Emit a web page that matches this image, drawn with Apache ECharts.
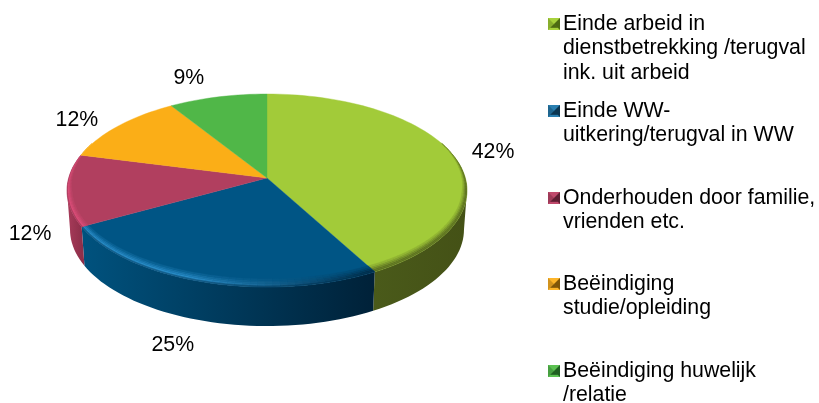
<!DOCTYPE html>
<html>
<head>
<meta charset="utf-8">
<style>html,body{margin:0;padding:0;background:#fff}#c{width:819px;height:403px}</style>
<script src="https://cdn.jsdelivr.net/npm/echarts@6/dist/echarts.min.js"></script>
</head>
<body>
<div id="c"></div>
<script>
// ---- data ----
const categories = [
  'Einde arbeid in\ndienstbetrekking /terugval\nink. uit arbeid',
  'Einde WW-\nuitkering/terugval in WW',
  'Onderhouden door familie,\nvrienden etc.',
  'Beëindiging\nstudie/opleiding',
  'Beëindiging huwelijk\n/relatie'
];
const values = [42, 25, 12, 12, 9];

// ---- styling ----
const faceColors = ['#A2CB39', '#005585', '#B13F5F', '#FBAE17', '#50B748'];
const rimLightColors = ['#B9D94F', '#2A8CC6', '#DC4F7A', '#FFC040', '#66C95C'];
const rimDarkColors = ['#5E7322', '#00304E', '#7F2B44', '#A87510', '#2F7A2A'];
const wallLeft = ['#4A5A1A', '#00527E', '#A83B5A', '#A87510', '#2F7A2A'];
const wallRight = ['#445116', '#002138', '#8E2F4A', '#A87510', '#2F7A2A'];
const iconDark = ['#4D6A12', '#0B3550', '#5E1E33', '#7F5508', '#1F5F20'];
const iconLight = ['#A8D23C', '#2A7FB0', '#C0496C', '#FDB52A', '#5CC252'];
const labelOffsets = [[40, -3], [-31, 24], [-37, 44], [-41, -6], [-29, -19]];
const legendFirstLineY = [24, 111, 198, 284, 371];

// ---- projection of the tilted disc ----
const CX = 267, CY = 178, SX = 198.3, SY = 94.9, K = 0.1295, DEPTH = 39, WALL_TAPER = 0.985;
const LINE = 24.4, FONT = 21.3, FONT_FAMILY = '"Liberation Sans", Arial, sans-serif';
const total = values.reduce((a, b) => a + b, 0);
function proj(frac) {
  const t = frac * 2 * Math.PI, u = Math.sin(t), v = Math.cos(t), w = 1 + K * v;
  return { x: CX + SX * u / w, y: CY - SY * v / w, u: u, v: v };
}
function arc(a, b) {
  const n = Math.max(2, Math.ceil((b - a) * 180)), pts = [];
  for (let i = 0; i <= n; i++) pts.push(proj(a + (b - a) * i / n));
  return pts;
}
function hex(c) { return [1, 3, 5].map(i => parseInt(c.substr(i, 2), 16)); }
function mix(a, b, f) {
  const A = hex(a), B = hex(b);
  const toHex = x => ('0' + Math.round(x).toString(16)).slice(-2);
  return '#' + A.map((x, i) => toHex(x + (B[i] - x) * f)).join('');
}
// point moved from the rim towards the apex, so strips end on the slice edges
function inner(p, o) {
  const g = Math.min(1, Math.max(0, (0.35 - p.v) / 0.5));
  const f = g * (0.025 + 0.05 * p.v * p.v) * o;
  return [p.x + (CX - p.x) * f, p.y + (CY - p.y) * f];
}

function renderSlice(idx) {
  return function (params, api) {
    const a = api.value(0) / total, b = api.value(1) / total;
    const children = [];
    // wall (visible between the right and left silhouette points)
    const frontA = 0.2706, frontB = 0.7294;
    const wa = Math.max(a, frontA), wb = Math.min(b, frontB);
    if (wb > wa) {
      const top = arc(wa, wb);
      const poly = top.map(p => [p.x, p.y]).concat(top.slice().reverse().map(p => [CX + (p.x - CX) * WALL_TAPER, p.y + DEPTH]));
      children.push({
        type: 'polygon', shape: { points: poly },
        style: { fill: new echarts.graphic.LinearGradient(top[0].x, 0, top[top.length - 1].x, 0,
          [{ offset: 0, color: wallRight[idx] }, { offset: 1, color: wallLeft[idx] }], true) }
      });
    }
    // top face
    const rim = arc(a, b);
    children.push({
      type: 'polygon',
      shape: { points: [[CX, CY]].concat(rim.map(p => [p.x, p.y])) },
      style: { fill: faceColors[idx], stroke: faceColors[idx], lineWidth: 0.4 }
    });
    // bevel along the rim: thin strips blending from wall shade to face colour
    const layers = 5;
    for (let i = 0; i + 1 < rim.length; i++) {
      const p = rim[i], q = rim[i + 1];
      if (p.v > 0.35 && q.v > 0.35) continue;
      const hiF = Math.min(1, Math.max(0, (0.45 - (p.u + q.u) / 2) / 0.8));
      const lit = mix(rimDarkColors[idx], rimLightColors[idx], hiF);
      for (let l = 0; l < layers; l++) {
        const o0 = l / layers, o1 = (l + 1) / layers; // 0 = outer edge, 1 = inner edge
        const col = l === 0 ? mix(rimDarkColors[idx], lit, 0.5)
          : mix(lit, faceColors[idx], (l - 1) / (layers - 1));
        const p0 = inner(p, o0), q0 = inner(q, o0), q1 = inner(q, o1), p1 = inner(p, o1);
        children.push({
          type: 'polygon', shape: { points: [p0, q0, q1, p1] },
          style: { fill: col, stroke: col, lineWidth: 0.3 }
        });
      }
    }
    // data label
    const m = proj((a + b) / 2), off = labelOffsets[idx];
    const wallDrop = (m.v < -0.13) ? DEPTH : 0;
    children.push({
      type: 'text', z2: 10,
      style: {
        x: m.x + off[0], y: m.y + wallDrop + off[1],
        text: Math.round(api.value(1) - api.value(0)) + '%',
        fill: '#000', font: FONT + 'px ' + FONT_FAMILY,
        align: 'center', verticalAlign: 'middle'
      }
    });
    return { type: 'group', children: children };
  };
}

function iconUrl(idx) {
  const s = 48, cv = document.createElement('canvas');
  cv.width = cv.height = s;
  const g = cv.getContext('2d'), m = s / 2, b = s * 0.18;
  g.fillStyle = faceColors[idx]; g.fillRect(0, 0, s, s);
  const tri = (pts, c) => { g.fillStyle = c; g.beginPath(); pts.forEach((p, i) => i ? g.lineTo(p[0], p[1]) : g.moveTo(p[0], p[1])); g.closePath(); g.fill(); };
  tri([[0, 0], [s, 0], [m, m]], iconLight[idx]);
  tri([[0, s], [s, s], [m, m]], iconLight[idx]);
  tri([[0, 0], [0, s], [m, m]], mix(iconLight[idx], iconDark[idx], 0.35));
  tri([[s, 0], [s, s], [m, m]], iconDark[idx]);
  tri([[b, s - b], [s - b, s - b], [m, m]], iconDark[idx]);
  return cv.toDataURL();
}

let running = 0;
const series = values.map((val, idx) => {
  const start = running; running += val;
  return {
    type: 'custom', name: categories[idx], coordinateSystem: 'none', silent: true,
    itemStyle: { color: faceColors[idx] },
    renderItem: renderSlice(idx),
    data: [[start, running]]
  };
});

const legends = categories.map((name, idx) => {
  const n = name.split('\n').length;
  return {
    data: [name], orient: 'vertical', left: 548, padding: 0,
    top: legendFirstLineY[idx] - (2 * n - 1) * LINE / 2,
    selectedMode: false, itemWidth: 12, itemHeight: 12, itemGap: 0,
    icon: 'image://' + iconUrl(idx),
    // leading blank lines keep the icon beside the first text line
    formatter: nm => '\n'.repeat(n - 1) + nm,
    textStyle: { color: '#000', fontSize: FONT, fontFamily: FONT_FAMILY, lineHeight: LINE, padding: [0, 0, 0, -2] }
  };
});

const chart = echarts.init(document.getElementById('c'), null, { renderer: 'canvas' });
chart.setOption({ animation: false, backgroundColor: '#fff', legend: legends, series: series });
</script>
</body>
</html>
